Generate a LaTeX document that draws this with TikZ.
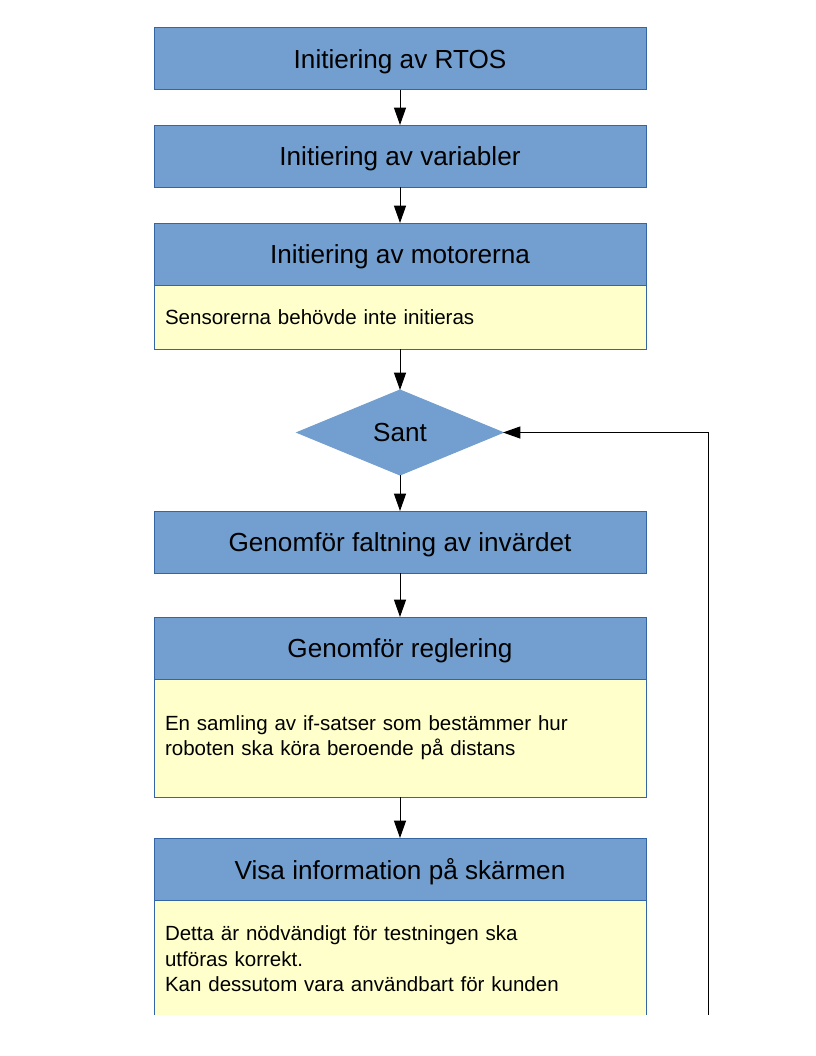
\documentclass[tikz,border=0pt]{standalone}
\usepackage{fontspec}
\setmainfont{Liberation Sans}
\usetikzlibrary{
  positioning,
  shapes.geometric,
  arrows.meta
}
\definecolor{headblue}{HTML}{729FCF}
\definecolor{lineblue}{HTML}{3465A4}
\definecolor{notefill}{HTML}{FFFFCC}

\begin{document}
\begin{tikzpicture}[
  x=0.75pt, y=-0.75pt,
  node distance=27pt,
  head/.style={draw=lineblue, fill=headblue, line width=0.75pt, outer sep=0pt, minimum width=369pt, minimum height=46.5pt, inner sep=0pt, text depth=0pt, font=\fontsize{19.6}{23}\selectfont},
  note/.style={draw=lineblue, fill=notefill, line width=0.75pt, outer sep=0pt, text width=352.5pt, inner xsep=8.25pt, inner ysep=0pt, align=left, font=\fontsize{15.4}{18.75}\selectfont},
  test/.style={diamond, draw=headblue, fill=headblue, line width=0.75pt, outer sep=0pt, minimum width=154.5pt, minimum height=63.75pt, inner sep=0pt, text depth=0pt, font=\fontsize{19.6}{23}\selectfont},
  arrow/.style={-{Triangle[length=13pt, width=9pt]}, line width=0.75pt}
]
\useasboundingbox (0,0) rectangle (816,1056);
\clip (0,0) rectangle (816,1014);

% Initiering
\node[head] (rtos) at (400,59) {Initiering av RTOS};
\node[head, below=26.25pt of rtos] (vars) {Initiering av variabler};
\node[head, below=27pt of vars] (motor) {Initiering av motorerna};
\node[note, minimum height=48pt, below=0pt of motor] (motornote) {Sensorerna behövde inte initieras};

% Loop
\node[test, below=30.75pt of motornote] (sant) {Sant};
\node[head, below=27pt of sant] (falt) {Genomför faltning av invärdet};
\node[head, below=33pt of falt] (regl) {Genomför reglering};
\node[note, minimum height=88.5pt, below=0pt of regl] (reglnote) {En samling av if-satser som bestämmer hur\\roboten ska köra beroende på distans};
\node[head, below=30.75pt of reglnote] (visa) {Visa information på skärmen};
\node[note, minimum height=88.5pt, below=0pt of visa, font=\fontsize{15.4}{19.1}\selectfont] (visanote) {Detta är nödvändigt för testningen ska\\utföras korrekt.\\Kan dessutom vara användbart för kunden};
\coordinate (back) at (708,1040);

% Arrows
\draw[arrow] (rtos) -- (vars);
\draw[arrow] (vars) -- (motor);
\draw[arrow] (motornote) -- (sant);
\draw[arrow] (sant) -- (falt);
\draw[arrow] (falt) -- (regl);
\draw[arrow] (reglnote) -- (visa);
\draw[arrow] (back) |- (sant.east);

\end{tikzpicture}
\end{document}
